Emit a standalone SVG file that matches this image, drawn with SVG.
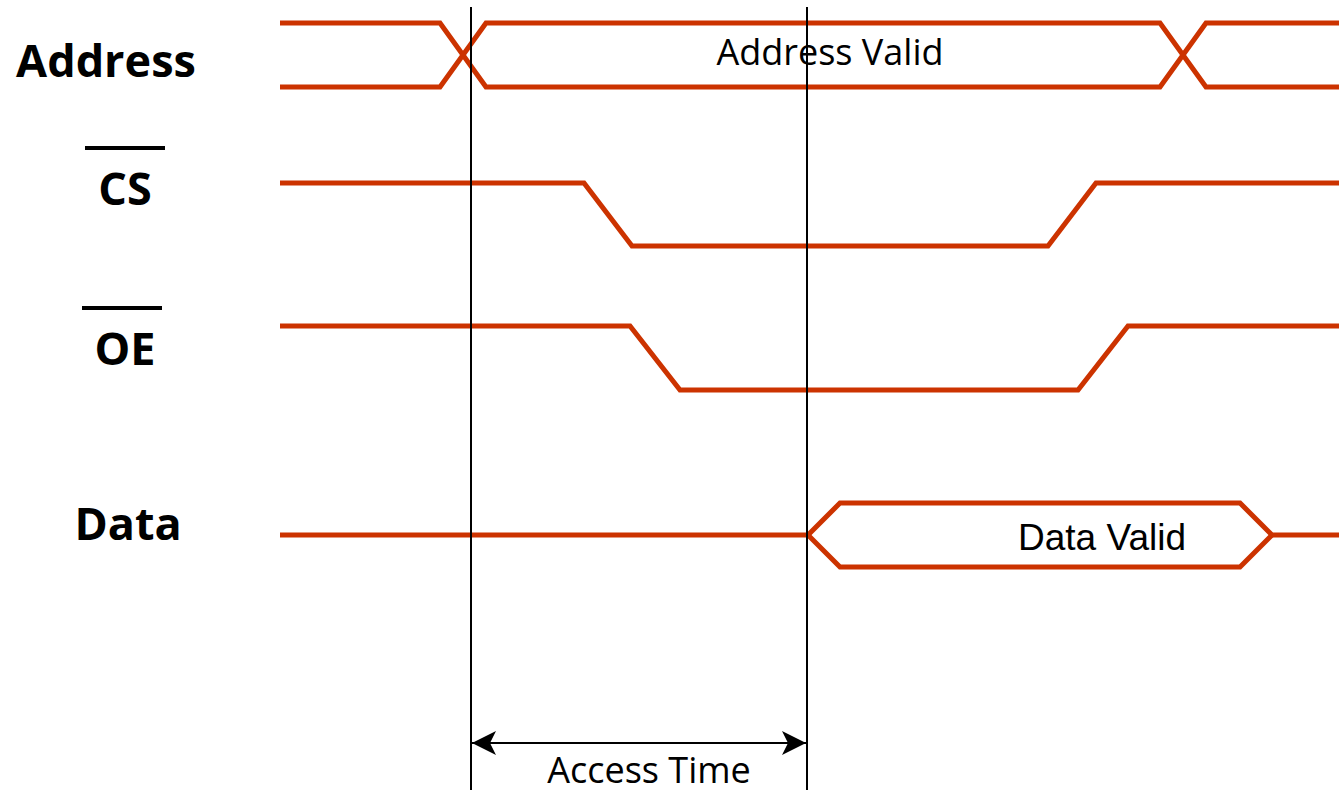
<svg xmlns="http://www.w3.org/2000/svg" width="1339" height="790" viewBox="0 0 1339 790">
  <style>
    .sig { fill: none; stroke: #cc3300; stroke-width: 5; stroke-linejoin: miter; }
    .mark { fill: none; stroke: #000; stroke-width: 2; }
    .lbl { font-family: "Open Sans", "Noto Sans", sans-serif; font-weight: bold; font-size: 45px; fill: #000; text-anchor: middle; }
    .bar { stroke: #000; stroke-width: 4; }
    .val { font-family: "Open Sans", "Noto Sans", sans-serif; font-size: 36px; fill: #000; text-anchor: middle; }
    .val2 { font-family: "Liberation Sans", Arial, sans-serif; font-size: 37px; fill: #000; text-anchor: middle; }
  </style>
  <defs>
    <marker id="arrow" viewBox="0 0 24 24" refX="24" refY="12" markerWidth="24" markerHeight="24" markerUnits="userSpaceOnUse" orient="auto-start-reverse">
      <path d="M24 12 L0 0 L6 12 L0 24 Z" fill="#000"/>
    </marker>
  </defs>
  <rect width="1339" height="790" fill="#fff"/>

  <!-- signal names -->
  <g id="label-address"><text class="lbl" x="106" y="77" font-size="47">Address</text></g>
  <g id="label-cs">
    <line class="bar" x1="85" y1="148" x2="165" y2="148"/>
    <text class="lbl" x="125" y="205">CS</text>
  </g>
  <g id="label-oe">
    <line class="bar" x1="82" y1="308" x2="162" y2="308"/>
    <text class="lbl" x="125" y="365">OE</text>
  </g>
  <g id="label-data"><text class="lbl" x="128" y="540">Data</text></g>

  <!-- waveforms -->
  <g id="wave-address">
    <path class="sig" d="M280 23 H440 L486 87 H1160 L1206 23 H1339"/>
    <path class="sig" d="M280 87 H440 L486 23 H1160 L1206 87 H1339"/>
    <text class="val" x="830" y="65">Address Valid</text>
  </g>
  <g id="wave-cs">
    <path class="sig" d="M280 183 H584 L632 246 H1048 L1096 183 H1339"/>
  </g>
  <g id="wave-oe">
    <path class="sig" d="M280 326 H630 L680 390 H1078 L1128 326 H1339"/>
  </g>
  <g id="wave-data">
    <path class="sig" d="M280 535 H808 L840 503 H1240 L1272 535 H1339"/>
    <path class="sig" d="M808 535 L840 567 H1240 L1272 535"/>
    <text class="val2" x="1102" y="550">Data Valid</text>
  </g>

  <!-- timing markers -->
  <g id="connectors">
    <line class="mark" x1="471" y1="7" x2="471" y2="790"/>
    <line class="mark" x1="807" y1="7" x2="807" y2="790"/>
    <line class="mark" x1="472" y1="743" x2="806" y2="743" marker-start="url(#arrow)" marker-end="url(#arrow)"/>
  </g>
  <g id="label-access"><text class="val" x="649" y="783">Access Time</text></g>
</svg>
